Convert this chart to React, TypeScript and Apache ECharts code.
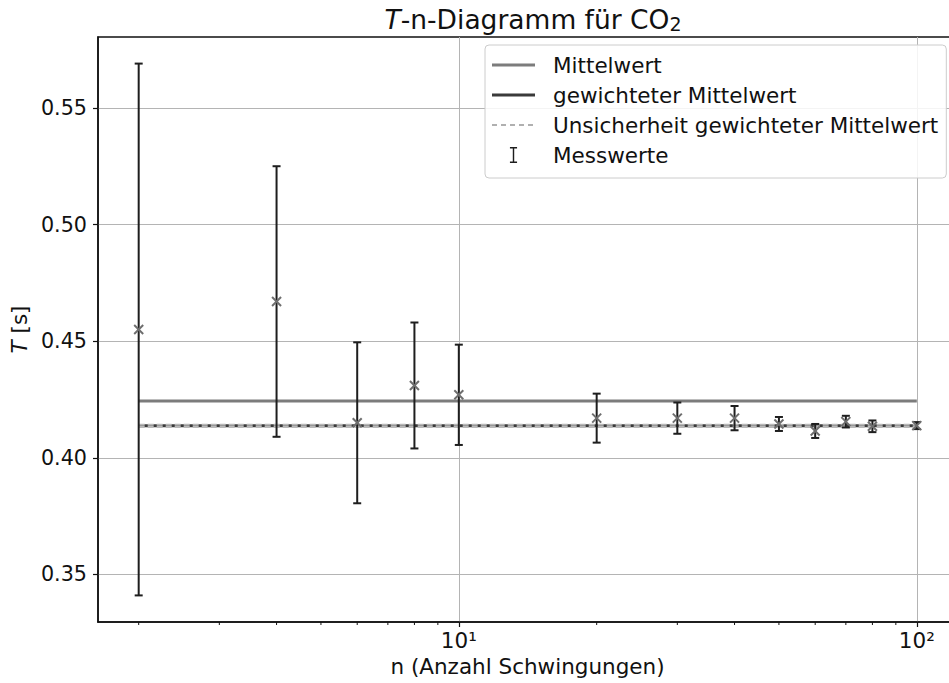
import React, { useEffect, useRef } from "react";
import * as echarts from "echarts";

// ---- data ----
const nValues = [2, 4, 6, 8, 10, 20, 30, 40, 50, 60, 70, 80, 100];
const periodValues = [0.455, 0.467, 0.415, 0.431, 0.427, 0.417, 0.417, 0.417, 0.4145, 0.4115, 0.4155, 0.4135, 0.4138];
const periodErrors = [0.114, 0.058, 0.0345, 0.027, 0.0215, 0.0105, 0.0067, 0.0052, 0.003, 0.003, 0.0025, 0.0025, 0.0015];
const meanValue = 0.4243;
const weightedMean = 0.4137;
const weightedMeanUncertainty = 0.0005;
const lineRange = [2, 100];
const yTickValues = [0.35, 0.4, 0.45, 0.5, 0.55];
const xTickValues = [10, 100];
const xTickLabels = ["10¹", "10²"];
const xMinorTicks = [2, 3, 4, 5, 6, 7, 8, 9, 20, 30, 40, 50, 60, 70, 80, 90];

const X_MIN = 1.63;
const X_MAX = 122.4;
const Y_MIN = 0.3296;
const Y_MAX = 0.5804;

const FONT = "DejaVu Sans";
const FS = 21.5;

// legend icons (43 x 16 box, tiny corner anchors keep the bounding box)
const ANCHORS = "M0,0h0.05v0.05h-0.05Z M43,16h-0.05v-0.05h0.05Z ";
const solidIcon = "path://" + ANCHORS + "M0,6.6H43V9.4H0Z";
const dashedIcon =
  "path://" +
  ANCHORS +
  "M0,7h5v2h-5Z M9,7h5v2h-5Z M18,7h5v2h-5Z M27,7h5v2h-5Z M36,7h5v2h-5Z";
const ibeamIcon = "path://M0,0H8V1.6H4.8V16.4H8V18H0V16.4H3.2V1.6H0Z";

export default function App() {
  const ref = useRef<HTMLDivElement>(null);

  useEffect(() => {
    if (!ref.current) return;
    const chart = echarts.init(ref.current, undefined, { renderer: "svg" });

    const errData = nValues.map((n, i) => [n, periodValues[i], periodErrors[i]]);

    const option: any = {
      animation: false,
      backgroundColor: "#ffffff",
      title: {
        text: "{i|T}-n-Diagramm für CO{sub|2}",
        left: 528,
        top: 1,
        textAlign: "center",
        textStyle: {
          fontFamily: FONT,
          fontSize: 26.5,
          fontWeight: "normal",
          color: "#111",
          rich: {
            i: { fontFamily: FONT, fontSize: 26.5, fontStyle: "italic", color: "#111" },
            sub: { fontFamily: FONT, fontSize: 19, color: "#111", verticalAlign: "bottom", lineHeight: 19 },
          },
        },
      },
      grid: {
        left: 98,
        top: 37,
        right: 0,
        bottom: 61,
        show: true,
        borderColor: "#111",
        borderWidth: 1.5,
        backgroundColor: "transparent",
      },
      legend: {
        orient: "vertical",
        left: 485,
        top: 45,
        itemWidth: 43,
        itemHeight: 16,
        itemGap: 6,
        padding: [8, 8, 11, 7],
        backgroundColor: "rgba(255,255,255,0.85)",
        borderColor: "#cccccc",
        borderWidth: 1,
        borderRadius: 4,
        selectedMode: false,
        textStyle: {
          fontFamily: FONT,
          fontSize: FS,
          color: "#111",
          lineHeight: 24,
          padding: [0, 0, 0, 13],
        },
        data: [
          { name: "Mittelwert", icon: solidIcon, itemStyle: { color: "#7c7c7c" } },
          { name: "gewichteter Mittelwert", icon: solidIcon, itemStyle: { color: "#3a3a3a" } },
          { name: "Unsicherheit gewichteter Mittelwert", icon: dashedIcon, itemStyle: { color: "#b0b0b0" } },
          { name: "Messwerte", icon: ibeamIcon, itemStyle: { color: "#1e1e1e" } },
        ],
      },
      xAxis: {
        type: "log",
        logBase: 10,
        min: X_MIN,
        max: X_MAX,
        name: "n (Anzahl Schwingungen)",
        nameLocation: "middle",
        nameGap: 30,
        nameTextStyle: { fontFamily: FONT, fontSize: FS, color: "#111" },
        axisLine: { show: true, onZero: false, lineStyle: { color: "#111", width: 1.5 } },
        axisTick: {
          show: true,
          inside: false,
          length: 5,
          customValues: xTickValues,
          lineStyle: { color: "#111", width: 1.2 },
        },
        axisLabel: {
          customValues: xTickValues,
          margin: 7,
          fontFamily: FONT,
          fontSize: FS,
          color: "#111",
          formatter: (v: number) => {
            const idx = xTickValues.findIndex((t) => Math.abs(t - v) / t < 1e-6);
            return idx >= 0 ? xTickLabels[idx] : "";
          },
        },
        splitLine: { show: true, lineStyle: { color: "#b4b4b4", width: 1 } },
      },
      yAxis: {
        type: "value",
        min: Y_MIN,
        max: Y_MAX,
        name: "{i|T} [s]",
        nameLocation: "middle",
        nameGap: 68,
        nameRotate: 90,
        nameTextStyle: {
          fontFamily: FONT,
          fontSize: FS,
          color: "#111",
          rich: { i: { fontFamily: FONT, fontSize: FS, fontStyle: "italic", color: "#111" } },
        },
        axisLine: { show: true, lineStyle: { color: "#111", width: 1.5 } },
        axisTick: {
          show: true,
          inside: false,
          length: 5,
          customValues: yTickValues,
          lineStyle: { color: "#111", width: 1.2 },
        },
        axisLabel: {
          customValues: yTickValues,
          margin: 11,
          fontFamily: FONT,
          fontSize: 20.7,
          color: "#111",
          formatter: (v: number) => v.toFixed(2),
        },
        splitLine: { show: true, lineStyle: { color: "#b4b4b4", width: 1 } },
      },
      series: [
        {
          type: "line",
          name: "Mittelwert",
          data: lineRange.map((n) => [n, meanValue]),
          symbol: "none",
          lineStyle: { color: "#7c7c7c", width: 3 },
          itemStyle: { color: "#7c7c7c" },
          z: 2,
        },
        {
          type: "line",
          name: "gewichteter Mittelwert",
          data: lineRange.map((n) => [n, weightedMean]),
          symbol: "none",
          lineStyle: { color: "#3a3a3a", width: 3 },
          itemStyle: { color: "#3a3a3a" },
          z: 2,
        },
        {
          type: "line",
          name: "Unsicherheit gewichteter Mittelwert",
          data: lineRange.map((n) => [n, weightedMean + weightedMeanUncertainty]),
          symbol: "none",
          lineStyle: { color: "#b8b8b8", width: 2, type: [6, 3] },
          itemStyle: { color: "#b8b8b8" },
          z: 3,
        },
        {
          type: "line",
          name: "Unsicherheit gewichteter Mittelwert",
          data: lineRange.map((n) => [n, weightedMean - weightedMeanUncertainty]),
          symbol: "none",
          lineStyle: { color: "#b8b8b8", width: 2, type: [6, 3] },
          itemStyle: { color: "#b8b8b8" },
          z: 3,
        },
        {
          type: "custom",
          name: "Messwerte",
          data: errData,
          encode: { x: 0, y: 1 },
          itemStyle: { color: "#1e1e1e" },
          z: 5,
          silent: true,
          renderItem: (params: any, api: any) => {
            const n = api.value(0);
            const v = api.value(1);
            const e = api.value(2);
            const c = api.coord([n, v]);
            const t = api.coord([n, v + e]);
            const b = api.coord([n, v - e]);
            const cap = 4;
            const mk = 4.5;
            const bar = { stroke: "#1e1e1e", lineWidth: 2 };
            const mark = { stroke: "#6e6e6e", lineWidth: 2 };
            return {
              type: "group",
              children: [
                { type: "line", shape: { x1: c[0], y1: t[1], x2: c[0], y2: b[1] }, style: bar },
                { type: "line", shape: { x1: c[0] - cap, y1: t[1], x2: c[0] + cap, y2: t[1] }, style: bar },
                { type: "line", shape: { x1: c[0] - cap, y1: b[1], x2: c[0] + cap, y2: b[1] }, style: bar },
                { type: "line", shape: { x1: c[0] - mk, y1: c[1] - mk, x2: c[0] + mk, y2: c[1] + mk }, style: mark },
                { type: "line", shape: { x1: c[0] - mk, y1: c[1] + mk, x2: c[0] + mk, y2: c[1] - mk }, style: mark },
              ],
            };
          },
        },
        {
          type: "custom",
          name: "minorTicks",
          data: xMinorTicks.map((v) => [v, Y_MIN]),
          encode: { x: 0, y: 1 },
          silent: true,
          z: 6,
          renderItem: (params: any, api: any) => {
            const p = api.coord([api.value(0), Y_MIN]);
            const cs = params.coordSys;
            const bottom = cs.y + cs.height;
            return {
              type: "line",
              shape: { x1: p[0], y1: bottom, x2: p[0], y2: bottom + 3 },
              style: { stroke: "#111", lineWidth: 1 },
            };
          },
        },
      ],
    };

    chart.setOption(option);
    return () => chart.dispose();
  }, []);

  return (
    <div
      ref={ref}
      style={{ position: "fixed", left: 0, top: 0, width: 957, height: 683, background: "#fff" }}
    />
  );
}
